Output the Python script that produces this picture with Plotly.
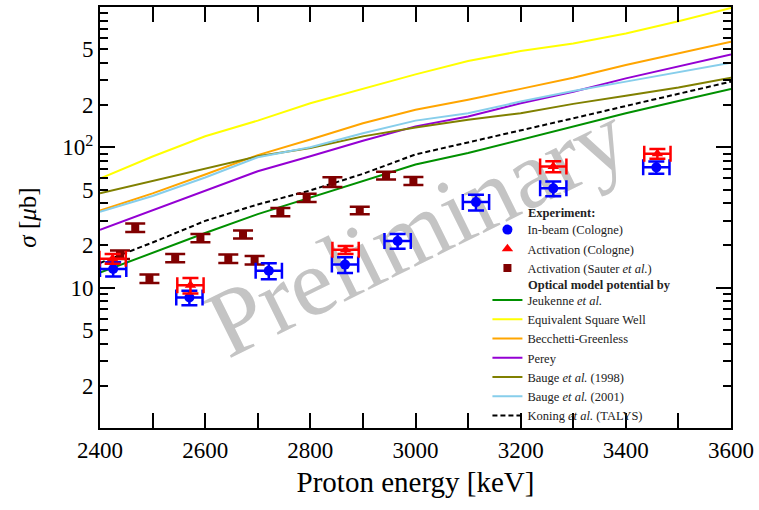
import plotly.graph_objects as go

# ---------------- data ----------------
# In-beam (Cologne)
E_inbeam = [2425, 2570, 2721, 2866, 2966, 3115, 3262, 3458]
sig_inbeam = [13.6, 8.5, 13.2, 14.6, 21.5, 40.7, 51, 72]
err_inbeam = [1.6, 1.0, 1.7, 1.9, 2.6, 5.3, 6.2, 7.2]
dE_inbeam = [25, 25, 25, 25, 25, 25, 25, 25]

# Activation (Cologne)
E_act = [2424, 2572, 2867, 3262, 3460]
sig_act = [16.1, 10.4, 18.6, 73, 90]
err_act = [1.3, 1.3, 1.2, 6.5, 7.2]
dE_act = [25, 25, 25, 25, 25]

# Activation (Sauter et al.)
E_sauter = [2438, 2467, 2494, 2543, 2591, 2644, 2672, 2694, 2743, 2793, 2842, 2894, 2944, 2996]
sig_sauter = [17.2, 26.8, 11.6, 16.3, 22.6, 16.1, 24.0, 15.7, 34.6, 43.7, 56.7, 35.5, 63, 57.6]
err_sauter = [1.2, 1.9, 0.8, 1.1, 1.5, 1.1, 1.6, 1.1, 2.3, 2.9, 4.5, 2.2, 3.9, 3.8]

# Optical model potential calculations
E_calc = [2400, 2500, 2600, 2700, 2800, 2900, 3000, 3100, 3200, 3300, 3400, 3500, 3600]
jeukenne = [12.8, 17.7, 24.5, 33.4, 43.7, 57.4, 75.5, 91, 113.6, 141, 175, 214, 261]
esw = [60, 86, 120, 155, 206, 261, 331, 412, 485, 550, 647, 791, 984]
becchetti = [35.5, 47, 64, 88, 113.6, 148.5, 185, 218, 261, 313, 386, 466, 565]
perey = [25.8, 35.6, 48.7, 67.6, 86.3, 111.5, 141, 166, 206, 249, 310, 375, 459]
bauge98 = [47, 57.4, 70.2, 86.3, 98.9, 119.7, 138.6, 157, 175, 204, 233, 267, 313]
bauge01 = [34.8, 45, 61, 85, 100, 126, 155, 175, 212, 252, 294, 342, 401]
koning = [15, 21, 29.9, 39.2, 49.3, 64.7, 89, 108, 132, 161, 197, 241, 294]

y_tickvals = [2, 5, 10, 20, 50, 100, 200, 500]
y_ticktext = ['2', '5', '10', '2', '5', '10<sup>2</sup>', '2', '5']
y_minorvals = [3, 4, 6, 7, 8, 9, 30, 40, 60, 70, 80, 90, 300, 400, 600, 700, 800, 900]
y_majorvals = [10, 100]

FONT = 'Liberation Serif, DejaVu Serif, serif'
TXT = '#222222'
LEG = 12.5

fig = go.Figure()

curves = [
    ('Jeukenne <i>et al.</i>', jeukenne, '#009000', 'solid'),
    ('Equivalent Square Well', esw, '#ffff00', 'solid'),
    ('Becchetti-Greenless', becchetti, '#ffa500', 'solid'),
    ('Perey', perey, '#9400d3', 'solid'),
    ('Bauge <i>et al.</i> (1998)', bauge98, '#808000', 'solid'),
    ('Bauge <i>et al.</i> (2001)', bauge01, '#87ceeb', 'solid'),
    ('Koning <i>et al.</i> (TALYS)', koning, '#000000', '5px,3px'),
]
for name, vals, col, dash in curves:
    fig.add_trace(go.Scatter(x=E_calc, y=vals, mode='lines', name=name, legend='legend2',
                             line=dict(color=col, width=2, dash=dash)))

fig.add_trace(go.Scatter(x=E_sauter, y=sig_sauter, mode='markers',
                         name='Activation (Sauter <i>et al.</i>)', legend='legend', legendrank=3,
                         marker=dict(symbol='square', size=8, color='#800000'),
                         error_y=dict(type='data', array=err_sauter, color='#800000',
                                      thickness=2.5, width=10)))
fig.add_trace(go.Scatter(x=E_inbeam, y=sig_inbeam, mode='markers', name='In-beam (Cologne)',
                         legend='legend', legendrank=1,
                         marker=dict(symbol='circle', size=10, color='#0000ff'),
                         error_y=dict(type='data', array=err_inbeam, color='#0000ff',
                                      thickness=2.5, width=8),
                         error_x=dict(type='data', array=dE_inbeam, color='#0000ff',
                                      thickness=2.5, width=8)))
fig.add_trace(go.Scatter(x=E_act, y=sig_act, mode='markers', name='Activation (Cologne)',
                         legend='legend', legendrank=2,
                         marker=dict(symbol='triangle-up', size=10, color='#ff0000'),
                         error_y=dict(type='data', array=err_act, color='#ff0000',
                                      thickness=2.5, width=8),
                         error_x=dict(type='data', array=dE_act, color='#ff0000',
                                      thickness=2.5, width=8)))

# helper trace for the overlay axis with long decade ticks
fig.add_trace(go.Scatter(x=[None], y=[None], yaxis='y2', showlegend=False, hoverinfo='skip'))

# watermark
fig.add_shape(type='line', xref='paper', yref='paper', x0=0.195, y0=0.27, x1=0.795, y1=0.715,
              line=dict(color='rgba(0,0,0,0)', width=0), layer='below',
              label=dict(text='Preliminary', textposition='middle', yanchor='middle',
                         font=dict(family=FONT, size=96, color='#c4c4c4')))

# legend headers
fig.add_annotation(text='<b>Experiment:</b>', xref='paper', yref='paper', x=0.675, y=0.511,
                   xanchor='left', yanchor='middle', showarrow=False,
                   font=dict(family=FONT, size=LEG, color=TXT))
fig.add_annotation(text='<b>Optical model potential by</b>', xref='paper', yref='paper',
                   x=0.675, y=0.340, xanchor='left', yanchor='middle', showarrow=False,
                   font=dict(family=FONT, size=LEG, color=TXT))

fig.update_layout(
    width=759, height=510,
    margin=dict(l=100, r=24, t=5, b=82),
    paper_bgcolor='white', plot_bgcolor='white',
    font=dict(family=FONT, color='black'),
    showlegend=True,
    legend=dict(x=0.614, y=0.506, xanchor='left', yanchor='top',
                bgcolor='rgba(0,0,0,0)', font=dict(family=FONT, size=LEG, color=TXT),
                tracegroupgap=0, itemwidth=30),
    legend2=dict(x=0.614, y=0.339, xanchor='left', yanchor='top',
                 bgcolor='rgba(0,0,0,0)', font=dict(family=FONT, size=LEG, color=TXT),
                 tracegroupgap=0, itemwidth=30),
    xaxis=dict(range=[2400, 3600], tick0=2400, dtick=200, ticks='inside', ticklen=15,
               tickwidth=2, tickcolor='black',
               minor=dict(dtick=100, ticks='inside', ticklen=8, tickwidth=2, tickcolor='black'),
               showline=True, linewidth=2, linecolor='black', mirror='allticks',
               showgrid=False, zeroline=False,
               tickfont=dict(family=FONT, size=23, color='black'),
               title=dict(text='Proton energy [keV]', font=dict(family=FONT, size=29, color='black'),
                          standoff=10)),
    yaxis=dict(type='log', range=[0, 3], tickmode='array', tickvals=y_tickvals, ticktext=y_ticktext,
               ticks='inside', ticklen=8, tickwidth=2, tickcolor='black',
               minor=dict(tickmode='array', tickvals=y_minorvals, ticks='inside', ticklen=8,
                          tickwidth=2, tickcolor='black'),
               showline=True, linewidth=2, linecolor='black', mirror='allticks',
               showgrid=False, zeroline=False,
               tickfont=dict(family=FONT, size=23, color='black'),
               title=dict(text='<i>σ</i> [<i>μ</i>b]', font=dict(family=FONT, size=25, color='black'),
                          standoff=19)),
    yaxis2=dict(type='log', range=[0, 3], overlaying='y', side='left', anchor='x',
                tickmode='array', tickvals=y_majorvals, ticks='inside', ticklen=15, tickwidth=2,
                tickcolor='black', showticklabels=False, showline=True, linewidth=2,
                linecolor='black', mirror='allticks', showgrid=False, zeroline=False),
)

fig.write_html('out.html', config={'displayModeBar': False},
               post_script="document.body.style.margin='0px';")
